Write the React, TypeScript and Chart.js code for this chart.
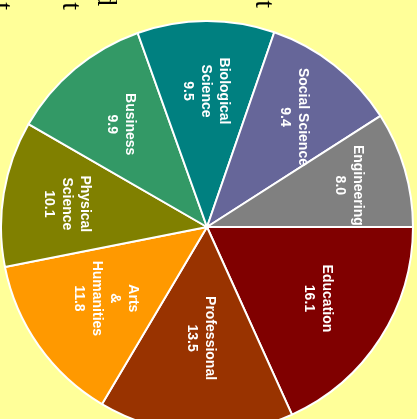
import React, { useEffect, useRef } from "react";
import { Chart, registerables } from "chart.js";

Chart.register(...registerables);

const categories = [
  "Education",
  "Professional",
  "Arts & Humanities",
  "Physical Science",
  "Business",
  "Biological Science",
  "Social Science",
  "Engineering",
];
const labelLines = [
  ["Education"],
  ["Professional"],
  ["Arts", "&", "Humanities"],
  ["Physical", "Science"],
  ["Business"],
  ["Biological", "Science"],
  ["Social Science"],
  ["Engineering"],
];
const values = [16.1, 13.5, 11.8, 10.1, 9.9, 9.5, 9.4, 8.0];
const colors = [
  "#800000",
  "#993300",
  "#FF9900",
  "#808000",
  "#339966",
  "#008080",
  "#666699",
  "#808080",
];
// label placement (fraction of radius) per slice
const labelRadius = [0.64, 0.54, 0.6, 0.69, 0.65, 0.66, 0.68, 0.72];

// clipped title fragments visible at the top edge
const titleFragments = ["t", "t", "d", "t"];
const fragmentX = [-6, 63, 98, 256];
const fragmentEndY = [10, 10, 6, 8];

const BG = "#FFFF99";

export default function App() {
  const ref = useRef<HTMLCanvasElement | null>(null);
  useEffect(() => {
    const canvas = ref.current;
    if (!canvas) return;
    const labelPlugin = {
      id: "sliceLabels",
      afterDatasetsDraw(chart: any) {
        const ctx = chart.ctx;
        const meta = chart.getDatasetMeta(0);
        meta.data.forEach((arc: any, i: number) => {
          const p = arc.getProps(["x", "y", "startAngle", "endAngle", "outerRadius"], true);
          const mid = (p.startAngle + p.endAngle) / 2;
          const r = p.outerRadius * labelRadius[i];
          const cx = p.x + Math.cos(mid) * r;
          const cy = p.y + Math.sin(mid) * r;
          const lines = [...labelLines[i], values[i].toFixed(1)];
          ctx.save();
          ctx.translate(cx, cy);
          ctx.rotate(Math.PI / 2);
          ctx.font = 'bold 14px "Liberation Sans", Arial, sans-serif';
          ctx.fillStyle = "#FFFFFF";
          ctx.textAlign = "center";
          ctx.textBaseline = "middle";
          const lh = 18;
          lines.forEach((l, k) => {
            ctx.fillText(l, 0, (k - (lines.length - 1) / 2) * lh);
          });
          ctx.restore();
        });
        // title fragments
        ctx.save();
        ctx.font = '28px "Liberation Serif", "Times New Roman", serif';
        ctx.fillStyle = "#000000";
        titleFragments.forEach((t, i) => {
          ctx.save();
          ctx.translate(fragmentX[i], fragmentEndY[i]);
          ctx.rotate(Math.PI / 2);
          ctx.textAlign = "right";
          ctx.textBaseline = "alphabetic";
          ctx.fillText(t, 0, 0);
          ctx.restore();
        });
        ctx.restore();
      },
    };
    const chart = new Chart(canvas, {
      type: "pie",
      data: {
        labels: categories,
        datasets: [
          {
            data: values,
            backgroundColor: colors,
            borderColor: "#FFFFFF",
            borderWidth: 2,
            hoverOffset: 0,
          },
        ],
      },
      options: {
        responsive: false,
        animation: false,
        rotation: 90,
        layout: { padding: 0 },
        plugins: {
          legend: { display: false },
          tooltip: { enabled: false },
          title: { display: false },
        },
      },
      plugins: [labelPlugin],
    });
    return () => chart.destroy();
  }, []);
  return (
    <div
      style={{
        position: "fixed",
        left: 0,
        top: 0,
        width: 417,
        height: 419,
        overflow: "hidden",
        background: BG,
      }}
    >
      <canvas ref={ref} width={414} height={454} style={{ display: "block" }} />
    </div>
  );
}
